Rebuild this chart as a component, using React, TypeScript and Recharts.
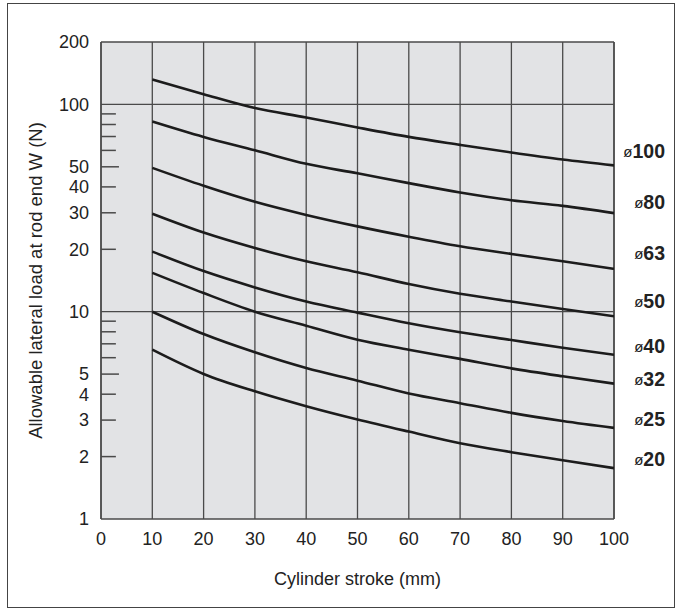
import React from "react";
import {
  LineChart,
  Line,
  XAxis,
  YAxis,
  CartesianGrid,
  ReferenceLine,
  LabelList,
} from "recharts";

const strokes = [10, 20, 30, 40, 50, 60, 70, 80, 90, 100];
const bore100 = [132, 112, 96, 86.5, 77.4, 69.7, 63.8, 58.6, 54.2, 50.8];
const bore80 = [82.7, 69.7, 60.1, 51.7, 46.5, 41.7, 37.6, 34.5, 32.4, 29.9];
const bore63 = [49.4, 40.5, 33.9, 29.3, 25.8, 23.0, 20.7, 19.0, 17.5, 16.1];
const bore50 = [29.7, 24.1, 20.3, 17.5, 15.5, 13.6, 12.2, 11.2, 10.3, 9.5];
const bore40 = [19.5, 15.7, 13.1, 11.2, 9.9, 8.8, 7.96, 7.3, 6.7, 6.2];
const bore32 = [15.4, 12.3, 10, 8.56, 7.33, 6.56, 5.92, 5.33, 4.88, 4.5];
const bore25 = [10, 7.8, 6.37, 5.35, 4.65, 4.03, 3.62, 3.25, 2.97, 2.75];
const bore20 = [6.56, 5.01, 4.13, 3.5, 3.02, 2.64, 2.32, 2.1, 1.92, 1.76];

const xTicks = [0, 10, 20, 30, 40, 50, 60, 70, 80, 90, 100];
const yTicks = [1, 2, 3, 4, 5, 10, 20, 30, 40, 50, 100, 200];
const minorMarks = [2, 3, 4, 5, 6, 7, 8, 9, 20, 30, 40, 50, 60, 70, 80, 90];

const series = [
  { key: "d100", name: "100", values: bore100, dy: -14 },
  { key: "d80", name: "80", values: bore80, dy: -11 },
  { key: "d63", name: "63", values: bore63, dy: -16 },
  { key: "d50", name: "50", values: bore50, dy: -15 },
  { key: "d40", name: "40", values: bore40, dy: -9 },
  { key: "d32", name: "32", values: bore32, dy: -5 },
  { key: "d25", name: "25", values: bore25, dy: -9 },
  { key: "d20", name: "20", values: bore20, dy: -9 },
];

const data = strokes.map((s, i) => {
  const row: Record<string, number> = { stroke: s };
  series.forEach((se) => {
    row[se.key] = se.values[i];
  });
  return row;
});

const FONT = "'Liberation Sans', Arial, Helvetica, sans-serif";
const INK = "#222";
const GRID = "#4a4a4a";

function endLabel(name: string, dy: number) {
  return (props: any) => {
    const { x, y, index } = props;
    if (index !== strokes.length - 1) return null;
    return (
      <text
        x={x + 51}
        y={y + dy}
        textAnchor="end"
        dominantBaseline="central"
        fontFamily={FONT}
        fill={INK}
      >
        <tspan fontSize={15}>ø</tspan>
        <tspan fontSize={19.5} fontWeight="bold">
          {name}
        </tspan>
      </text>
    );
  };
}

export default function App() {
  return (
    <div style={{ position: "absolute", left: 0, top: 0, width: 680, height: 614, background: "#fff" }}>
      <div
        style={{
          position: "absolute",
          left: 7,
          top: 3,
          width: 666,
          height: 603,
          border: "1px solid #444",
        }}
      />
      <div style={{ position: "absolute", left: 0, top: 0 }}>
        <LineChart
          width={680}
          height={614}
          data={data}
          margin={{ top: 42, right: 66, left: 0, bottom: 25 }}
        >
          <CartesianGrid
            fill="#e2e3e5"
            horizontal={false}
            stroke={GRID}
            strokeWidth={1.3}
            strokeOpacity={1}
          />
          <XAxis
            dataKey="stroke"
            type="number"
            domain={[0, 100]}
            ticks={xTicks}
            interval={0}
            allowDataOverflow
            height={70}
            tickLine={false}
            tickSize={0}
            tickMargin={13}
            axisLine={{ stroke: GRID, strokeWidth: 1.5 }}
            tick={{ fontSize: 18, fill: INK, fontFamily: FONT }}
            label={{
              value: "Cylinder stroke (mm)",
              position: "insideBottom",
              offset: 4,
              style: { fontSize: 18, fill: INK, fontFamily: FONT },
            }}
          />
          <YAxis
            type="number"
            scale="log"
            domain={[1, 200]}
            ticks={yTicks}
            interval={0}
            allowDataOverflow
            width={101}
            tickLine={false}
            tickSize={0}
            tickMargin={12}
            axisLine={{ stroke: GRID, strokeWidth: 1.5 }}
            tick={{ fontSize: 18, fill: INK, fontFamily: FONT }}
            label={{
              value: "Allowable lateral load at rod end W (N)",
              angle: -90,
              position: "insideLeft",
              offset: 35,
              style: { textAnchor: "middle", fontSize: 18.5, fill: INK, fontFamily: FONT },
            }}
          />
          <ReferenceLine y={200} stroke={GRID} strokeWidth={1.5} />
          <ReferenceLine x={100} stroke={GRID} strokeWidth={1.5} />
          <ReferenceLine y={100} stroke={GRID} strokeWidth={1.3} />
          <ReferenceLine y={10} stroke={GRID} strokeWidth={1.3} />
          {minorMarks.map((m) => (
            <ReferenceLine
              key={m}
              segment={[
                { x: 0, y: m },
                { x: m === 5 || m === 50 ? 3.5 : 2.9, y: m },
              ]}
              stroke={GRID}
              strokeWidth={1.5}
            />
          ))}
          {series.map((se) => (
            <Line
              key={se.key}
              dataKey={se.key}
              type="monotone"
              stroke="#1c1c1c"
              strokeWidth={2.6}
              dot={false}
              isAnimationActive={false}
            >
              <LabelList dataKey={se.key} content={endLabel(se.name, se.dy)} />
            </Line>
          ))}
        </LineChart>
      </div>
    </div>
  );
}
